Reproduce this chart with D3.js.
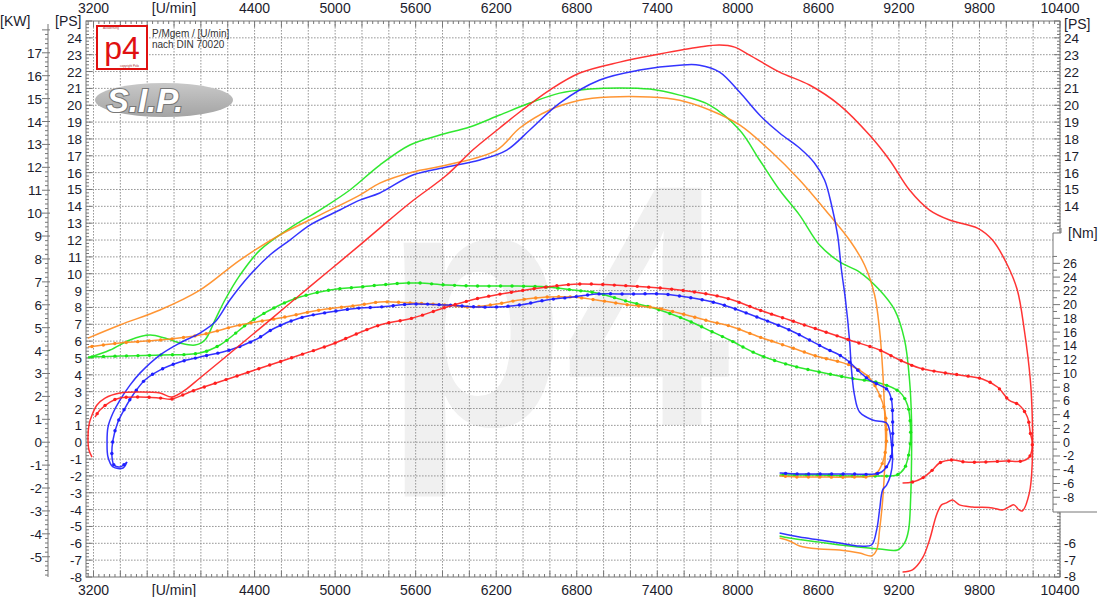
<!DOCTYPE html>
<html><head><meta charset="utf-8">
<script src="https://cdn.jsdelivr.net/npm/d3@7"></script>
<style>body{margin:0;background:#fff}svg{display:block}text{font-family:"Liberation Sans",Arial,sans-serif}</style>
</head><body><svg id="c" width="1102" height="597"></svg>
<script>
// ---------- data ----------
const rpmTickValues = [3200,3800,4400,5000,5600,6200,6800,7400,8000,8600,9200,9800,10400];
const rpmTickLabels = ["3200","[U/min]","4400","5000","5600","6200","6800","7400","8000","8600","9200","9800","10400"];
const psLeftTicks = d3.range(-8,25);
const psRightTicks = [24,23,22,21,20,19,18,17,16,15,14,-6,-7,-8];
const kwTicks = d3.range(-5,18);
const nmTicks = d3.range(-8,27,2);
const headerKW = "[KW]", headerPS = "[PS]", headerNm = "[Nm]";
const legendLines = ["P/Mgem / [U/min]","nach DIN 70020"];

const redPower = [[3189,-0.88],[3166,-0.46],[3159,0.13],[3166,1.02],[3189,1.61],[3226,2.21],[3286,2.62],[3397,2.92],[3546,2.98],[3695,2.92],[3784,2.68],[3881,3.09],[3993,3.81],[4291,5.77],[4514,7.25],[4737,8.74],[4961,10.22],[5184,11.7],[5333,12.71],[5557,14.2],[5832,15.86],[6025,17.34],[6226,18.65],[6375,19.6],[6598,20.9],[6822,21.91],[7120,22.56],[7418,23.04],[7715,23.45],[7864,23.57],[7976,23.45],[8087,22.98],[8311,21.97],[8534,21.2],[8758,20.01],[8981,18.23],[9130,16.75],[9279,14.97],[9428,13.78],[9577,13.19],[9785,12.71],[9897,12.0],[10008,10.52],[10082,9.03],[10134,6.66],[10179,3.69],[10194,1.32],[10194,-1.06],[10172,-3.01],[10119,-4.08],[10095,-4.02],[10058,-3.72],[10020,-3.84],[9971,-4.02],[9897,-3.9],[9748,-3.84],[9651,-3.72],[9599,-3.43],[9554,-3.6],[9517,-3.72],[9480,-4.32],[9428,-5.8],[9376,-6.87],[9301,-7.58],[9227,-7.7]];
const redTorque = [[3211,3.66],[3248,4.68],[3323,5.84],[3397,6.42],[3546,6.57],[3695,6.42],[3784,6.28],[3918,7.3],[4067,8.31],[4291,9.77],[4514,11.22],[4737,12.67],[4961,14.13],[5333,17.03],[5579,18.05],[5832,19.65],[6078,20.96],[6323,21.83],[6576,22.56],[6822,23.0],[7068,22.85],[7321,22.56],[7566,22.12],[7812,21.4],[7939,20.81],[8162,19.21],[8385,17.76],[8609,16.31],[8832,14.85],[9056,13.4],[9205,11.95],[9353,10.78],[9503,10.2],[9651,9.77],[9822,9.19],[9934,8.02],[10020,6.13],[10095,5.41],[10157,3.66],[10179,1.34],[10194,-0.12],[10172,-2.15],[10119,-2.73],[9993,-2.73],[9844,-2.88],[9696,-2.88],[9599,-2.59],[9503,-3.02],[9450,-4.04],[9376,-5.2],[9301,-5.78],[9227,-5.93]];
const bluePower = [[3449,-1.18],[3420,-1.53],[3345,-1.47],[3308,-0.88],[3301,-0.05],[3308,0.9],[3345,1.73],[3397,2.5],[3472,3.39],[3546,4.1],[3695,5.17],[3844,5.89],[3993,6.48],[4105,7.13],[4216,8.44],[4365,9.92],[4514,11.11],[4663,12.0],[4812,12.89],[5035,13.78],[5184,14.37],[5333,14.79],[5579,15.86],[5832,16.33],[6078,16.75],[6279,17.34],[6450,18.53],[6673,20.13],[6971,21.5],[7269,22.09],[7566,22.38],[7715,22.38],[7864,21.97],[8013,20.78],[8162,19.42],[8311,18.35],[8460,17.46],[8571,16.57],[8646,15.56],[8698,14.08],[8743,12.3],[8772,10.22],[8802,8.44],[8832,6.07],[8847,4.28],[8869,2.8],[8907,1.79],[9004,1.32],[9108,1.14],[9130,0.72],[9145,-0.17],[9153,-1.06],[9138,-1.95],[9108,-2.54],[9079,-2.83],[9056,-4.02],[9034,-5.21],[8996,-6.1],[8907,-6.16],[8758,-5.98],[8609,-5.8],[8460,-5.63],[8311,-5.39]];
const blueTorque = [[3449,-2.88],[3397,-3.6],[3353,-3.32],[3338,-2.15],[3345,0.32],[3382,2.94],[3435,4.97],[3494,6.86],[3583,9.04],[3695,10.49],[3844,11.66],[3993,12.38],[4216,13.4],[4402,14.85],[4551,16.6],[4737,18.05],[4961,18.92],[5184,19.51],[5333,19.65],[5579,20.09],[5832,19.94],[6078,19.65],[6204,19.65],[6375,19.94],[6576,20.67],[6770,21.1],[6948,21.54],[7194,21.54],[7440,21.54],[7618,21.1],[7812,20.38],[7939,19.65],[8162,18.05],[8385,16.31],[8534,14.85],[8646,13.69],[8758,12.67],[8832,11.66],[8907,10.2],[8981,9.04],[9056,8.31],[9116,7.59],[9145,6.13],[9153,3.23],[9153,0.32],[9145,-1.86],[9116,-3.32],[9071,-4.33],[9019,-4.62],[8832,-4.62],[8609,-4.62],[8460,-4.62],[8311,-4.48]];
const orangePower = [[3159,6.18],[3397,6.96],[3695,7.85],[3993,9.03],[4291,10.81],[4588,12.3],[4886,13.48],[5184,14.67],[5333,15.38],[5579,16.04],[5832,16.45],[6204,17.34],[6375,18.65],[6598,19.72],[6822,20.3],[7045,20.49],[7343,20.49],[7566,20.3],[7790,19.72],[8013,18.83],[8236,17.34],[8460,15.56],[8683,13.48],[8832,12.0],[8944,10.52],[9019,8.74],[9056,6.66],[9079,4.28],[9093,1.91],[9101,0.13],[9093,-1.65],[9079,-3.43],[9056,-5.21],[9034,-6.4],[8996,-6.75],[8907,-6.58],[8758,-6.4],[8609,-6.34],[8460,-6.16],[8385,-5.86],[8311,-5.69]];
const orangeTorque = [[3159,13.84],[3397,14.42],[3695,14.85],[3993,15.58],[4291,17.03],[4588,18.05],[4886,19.21],[5184,19.94],[5333,20.38],[5579,20.23],[5832,19.94],[6003,19.65],[6204,20.09],[6375,20.67],[6576,21.1],[6770,21.1],[6948,20.67],[7194,19.94],[7395,19.51],[7618,18.49],[7812,17.47],[7939,16.89],[8162,15.29],[8385,13.84],[8609,12.38],[8832,11.22],[8981,9.33],[9056,6.86],[9093,4.68],[9108,1.77],[9101,-1.13],[9071,-3.32],[9019,-4.77],[8832,-5.06],[8609,-5.06],[8460,-5.06],[8311,-4.91]];
const greenPower = [[3159,5.0],[3323,5.47],[3472,6.07],[3621,6.36],[3732,6.18],[3844,5.89],[3956,5.77],[4030,6.07],[4105,7.25],[4179,8.44],[4291,9.92],[4440,11.4],[4663,12.71],[4886,13.78],[5110,14.97],[5333,16.45],[5557,17.64],[5780,18.23],[6003,18.71],[6226,19.42],[6450,20.13],[6673,20.72],[6896,20.96],[7120,21.03],[7343,20.96],[7566,20.6],[7790,20.01],[8013,18.53],[8162,16.75],[8311,14.97],[8460,13.48],[8609,11.7],[8758,10.7],[8907,10.1],[9056,9.03],[9168,7.85],[9242,6.07],[9279,3.69],[9294,1.32],[9294,-1.06],[9287,-3.43],[9272,-5.21],[9242,-5.98],[9190,-6.4],[9056,-6.34],[8832,-6.16],[8609,-5.93],[8385,-5.69],[8311,-5.57]];
const greenTorque = [[3159,12.38],[3397,12.53],[3695,12.67],[3993,12.97],[4142,14.13],[4365,17.47],[4588,19.94],[4737,21.1],[4961,22.12],[5184,22.56],[5333,22.85],[5534,23.14],[5631,23.14],[5832,22.85],[6078,22.7],[6323,22.7],[6576,22.56],[6770,22.12],[6948,21.69],[7194,20.38],[7395,19.36],[7618,17.76],[7812,16.02],[7939,14.85],[8162,12.67],[8385,11.22],[8609,10.2],[8832,9.33],[9056,8.6],[9205,7.3],[9264,5.41],[9287,1.77],[9279,-1.13],[9242,-3.75],[9183,-4.77],[9056,-4.91],[8832,-4.91],[8609,-4.77],[8311,-4.77]];

const runs = [
  {color:"#19e619", power:greenPower, torque:greenTorque},
  {color:"#ff8a1e", power:orangePower, torque:orangeTorque},
  {color:"#1e1eff", power:bluePower, torque:blueTorque},
  {color:"#ff1e1e", power:redPower, torque:redTorque}
];

// ---------- layout ----------
const svg = d3.select("#c");
const X0 = 86, X1 = 1060, Y0 = 21, Y1 = 577;
const x = d3.scaleLinear().domain([3200,10400]).range([93.5,1060]);
const yPS = d3.scaleLinear().domain([-8,25]).range([577,21]);
const yNm = d3.scaleLinear().domain([0,26]).range([yPS(0), yPS(0)-26*6.88]);
const yKW = v => yPS(v*1.35962);
const txt = "#1c1c2c";

svg.append("rect").attr("width",1102).attr("height",597).attr("fill","#fff");

// watermark
svg.append("text").attr("x",0).attr("y",0)
  .attr("transform","translate(384,425) scale(0.86,1)")
  .attr("font-size",345).attr("font-weight","bold").attr("fill","#f0f0f0").text("p4");

// grid
const grid = svg.append("g").attr("stroke","#8c8c8c").attr("stroke-width",0.9).attr("stroke-dasharray","1.6,1.4");
d3.range(-7,25).forEach(v=>grid.append("line").attr("x1",X0).attr("x2",X1).attr("y1",yPS(v)).attr("y2",yPS(v)));
d3.range(3200,10401,200).forEach(r=>grid.append("line").attr("x1",x(r)).attr("x2",x(r)).attr("y1",Y0).attr("y2",Y1));

// plot border + ticks
const ax = svg.append("g").attr("stroke","#777").attr("stroke-width",1);
ax.append("rect").attr("x",X0).attr("y",Y0).attr("width",X1-X0).attr("height",Y1-Y0).attr("fill","none").attr("stroke","#777");
const rMin = x.invert(X0);
d3.range(3200,10401,40).forEach(r=>{
  const big = Math.abs(r%200)<1, L = big?6:3;
  ax.append("line").attr("x1",x(r)).attr("x2",x(r)).attr("y1",Y0).attr("y2",Y0+L);
  ax.append("line").attr("x1",x(r)).attr("x2",x(r)).attr("y1",Y1).attr("y2",Y1-L);
});
d3.range(3160,3200,40).forEach(r=>{ if(r>rMin){
  ax.append("line").attr("x1",x(r)).attr("x2",x(r)).attr("y1",Y0).attr("y2",Y0+3);
  ax.append("line").attr("x1",x(r)).attr("x2",x(r)).attr("y1",Y1).attr("y2",Y1-3);}});
d3.range(-8,25.01,0.2).forEach(v=>{
  const big = Math.abs(v-Math.round(v))<0.01, L = big?6:3;
  ax.append("line").attr("x1",X0).attr("x2",X0+L).attr("y1",yPS(v)).attr("y2",yPS(v));
  ax.append("line").attr("x1",X1).attr("x2",X1-L).attr("y1",yPS(v)).attr("y2",yPS(v));
});

// KW axis
const kwAx = svg.append("g").attr("stroke","#777").attr("stroke-width",1);
kwAx.append("line").attr("x1",48).attr("x2",48).attr("y1",24).attr("y2",Y1);
d3.range(-5.8,18.01,0.2).forEach(v=>{
  const big = Math.abs(v-Math.round(v))<0.01;
  const yy = yKW(v); if(yy<24||yy>Y1) return;
  kwAx.append("line").attr("x1",big?42:45).attr("x2",big?50:48).attr("y1",yy).attr("y2",yy);
});

// curves
svg.append("clipPath").attr("id","pc").append("rect").attr("x",X0).attr("y",Y0).attr("width",X1-X0).attr("height",Y1-Y0);
const gCurves = svg.append("g").attr("clip-path","url(#pc)");
const linePS = d3.line().x(d=>x(d[0])).y(d=>yPS(d[1])).curve(d3.curveCatmullRom.alpha(0.5));
const lineNm = d3.line().x(d=>x(d[0])).y(d=>yNm(d[1])).curve(d3.curveCatmullRom.alpha(0.5));
runs.forEach(run=>{
  gCurves.append("path").attr("d",linePS(run.power)).attr("fill","none").attr("stroke",run.color).attr("stroke-width",1.5).attr("stroke-opacity",0.9);
  const tp = gCurves.append("path").attr("d",lineNm(run.torque)).attr("fill","none").attr("stroke",run.color).attr("stroke-width",1.5).attr("stroke-opacity",0.9);
  const node = tp.node(), len = node.getTotalLength();
  for(let s=4; s<len; s+=11.5){
    const p = node.getPointAtLength(s);
    gCurves.append("circle").attr("cx",p.x).attr("cy",p.y).attr("r",1.7).attr("fill",run.color);
  }
});

// Nm box
svg.append("rect").attr("x",1053).attr("y",233).attr("width",49).attr("height",279).attr("fill","#fff");
const nmAx = svg.append("g").attr("stroke","#777").attr("stroke-width",1).attr("fill","none");
nmAx.append("path").attr("d","M1061,228 V233 H1053 V512 H1097");
d3.range(-9,28,1).forEach(v=>{
  const yy = yNm(v); if(yy<236||yy>509) return;
  nmAx.append("line").attr("x1",1053).attr("x2",v%2===0?1060:1057).attr("y1",yy).attr("y2",yy);
});

// texts
const T = svg.append("g").attr("fill",txt).attr("font-size",14);
rpmTickValues.forEach((r,i)=>{
  T.append("text").attr("x",x(r)).attr("y",12.5).attr("text-anchor","middle").text(rpmTickLabels[i]);
  T.append("text").attr("x",x(r)).attr("y",595).attr("text-anchor","middle").text(rpmTickLabels[i]);
});
psLeftTicks.forEach(v=>T.append("text").attr("x",82).attr("y",yPS(v)+5).attr("text-anchor","end").attr("font-size",13.5).text(v));
psRightTicks.forEach(v=>T.append("text").attr("x",1064).attr("y",yPS(v)+(v===-8?3.5:5)).attr("font-size",13.5).text(v));
kwTicks.forEach(v=>T.append("text").attr("x",42).attr("y",yKW(v)+5).attr("text-anchor","end").attr("font-size",13.5).text(v));
nmTicks.forEach(v=>T.append("text").attr("x",1063).attr("y",yNm(v)+4.5).attr("font-size",12.5).text(v));
T.append("text").attr("x",0).attr("y",26).attr("font-size",14).text(headerKW);
T.append("text").attr("x",55).attr("y",26).attr("font-size",14).text(headerPS);
T.append("text").attr("x",1064).attr("y",28.5).attr("font-size",14).text(headerPS);
T.append("text").attr("x",1068).attr("y",238).attr("font-size",14).text(headerNm);

// p4 logo box
const lg = svg.append("g");
lg.append("rect").attr("x",97).attr("y",26).attr("width",50).attr("height",43).attr("fill","#fff").attr("stroke","#e01010").attr("stroke-width",2);
lg.append("text").attr("x",122).attr("y",58.5).attr("text-anchor","middle").attr("font-family","Liberation Serif, serif").attr("font-size",32).attr("fill","#e01010").text("p4");
lg.append("text").attr("x",103).attr("y",29.2).attr("font-size",3).attr("fill","#a33").text("Auswertung");
lg.append("text").attr("x",120).attr("y",67).attr("font-size",3).attr("fill","#a33").text("copyright Polo");
legendLines.forEach((s,i)=>lg.append("text").attr("x",152).attr("y",37+i*11).attr("font-size",10).attr("fill","#333").text(s));

// S.I.P. logo
const sip = svg.append("g");
const grad = svg.append("defs").append("linearGradient").attr("id","sg").attr("x1",0).attr("x2",0).attr("y1",0).attr("y2",1);
grad.append("stop").attr("offset","0").attr("stop-color","#c8c8c8");
grad.append("stop").attr("offset","1").attr("stop-color","#a4a4a4");
sip.append("ellipse").attr("cx",164).attr("cy",100).attr("rx",69).attr("ry",17).attr("fill","url(#sg)");
sip.append("text").attr("x",145).attr("y",112).attr("text-anchor","middle").attr("font-size",33).attr("font-weight","bold").attr("font-style","italic")
  .attr("fill","#fff").attr("stroke","#777").attr("stroke-width",2.2).attr("paint-order","stroke").text("S.I.P.");
</script></body></html>
